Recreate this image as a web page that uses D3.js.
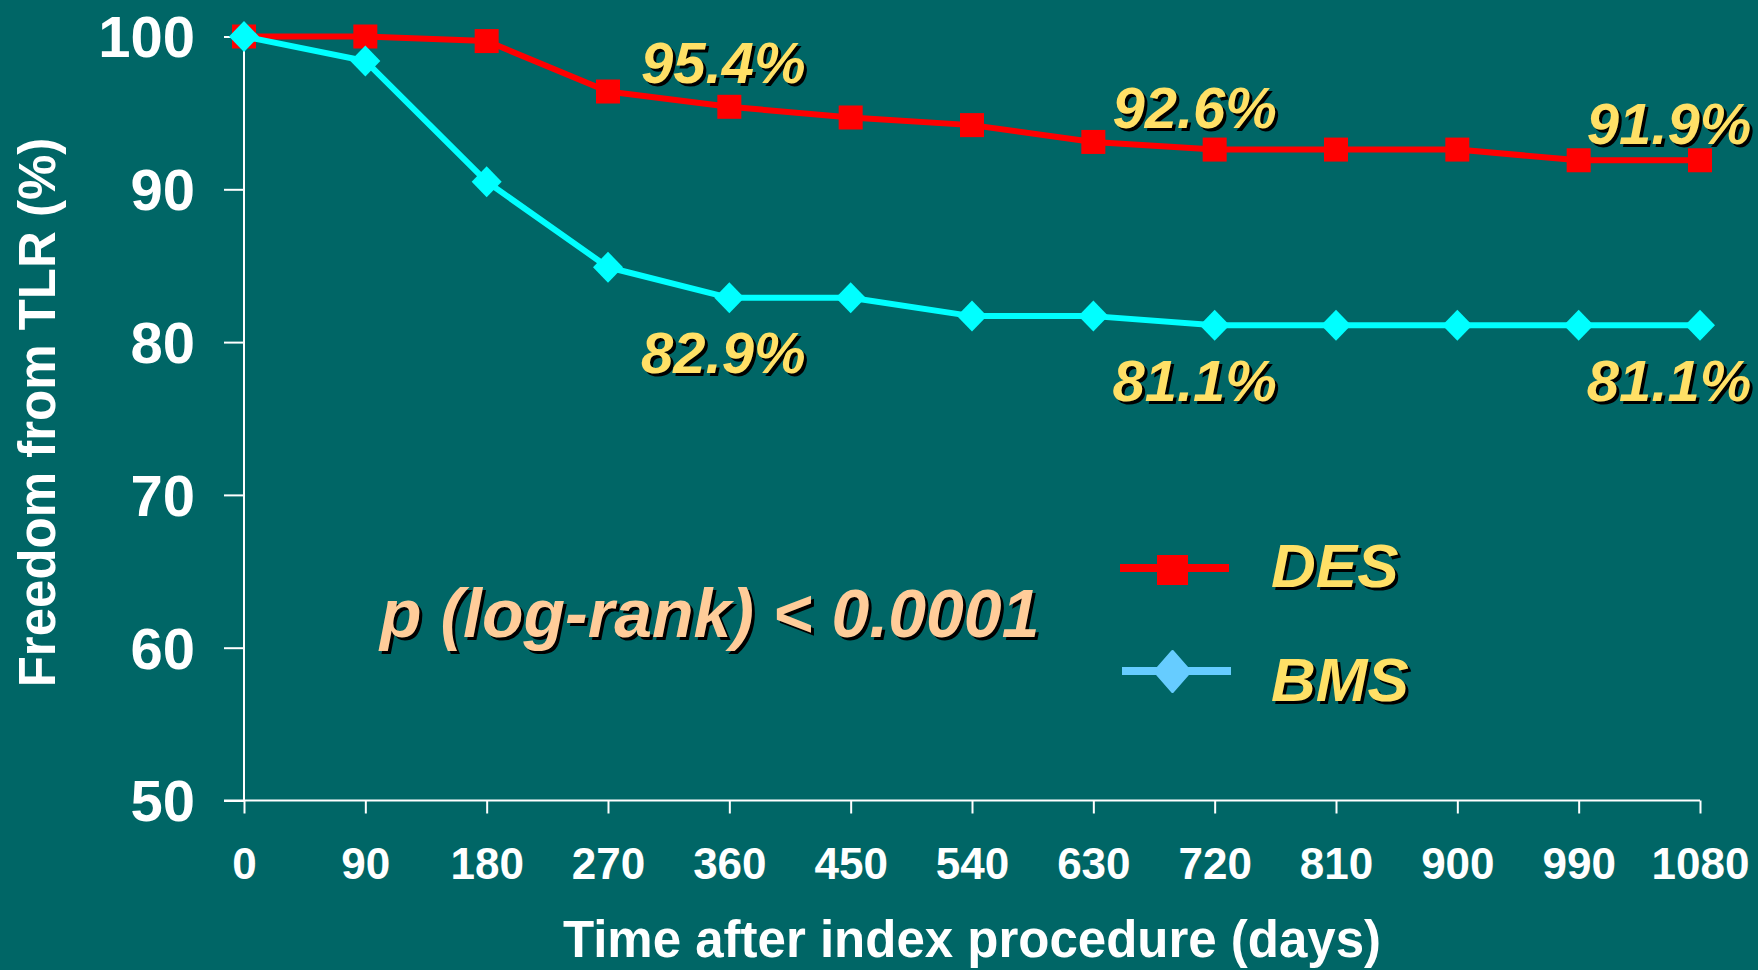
<!DOCTYPE html>
<html>
<head>
<meta charset="utf-8">
<script src="https://cdn.jsdelivr.net/npm/d3@7"></script>
<style>
  html, body { margin: 0; padding: 0; background: #006666; }
  svg { display: block; }
  text { font-family: "Liberation Sans", Arial, sans-serif; font-weight: bold; }
</style>
</head>
<body>
<svg id="chart" width="1758" height="970"></svg>
<script>
// Follow-up time points (days)
const days = [0, 90, 180, 270, 360, 450, 540, 630, 720, 810, 900, 990, 1080];
// Freedom from target lesion revascularization (%)
const desValues = [100, 100, 99.7, 96.4, 95.4, 94.7, 94.2, 93.1, 92.6, 92.6, 92.6, 91.9, 91.9];
const bmsValues = [100, 98.4, 90.5, 84.9, 82.9, 82.9, 81.7, 81.7, 81.1, 81.1, 81.1, 81.1, 81.1];
const yTicks = [50, 60, 70, 80, 90, 100];
// Days at which the survival estimate is printed
const labelDays = [360, 720, 1080];
const seriesNames = ["DES", "BMS"];
const pValueText = "p (log-rank) < 0.0001";

const svg = d3.select("#chart");
const W = 1758, H = 970;
const plot = { left: 244, right: 1700, top: 36.5, bottom: 800.5 };

svg.append("rect").attr("width", W).attr("height", H).attr("fill", "#006666");

const x = d3.scaleLinear().domain([0, 1080]).range([plot.left, plot.right]);
const y = d3.scaleLinear().domain([50, 100]).range([plot.bottom, plot.top]);

const white = "#ffffff";
const yellow = "#ffe066";
const peach = "#ffcc99";

// Axes
const xAxis = svg.append("g")
  .attr("transform", `translate(0,${plot.bottom})`)
  .call(d3.axisBottom(x).tickValues(days).tickSize(13).tickSizeOuter(0).tickFormat(d3.format("d")));
const yAxis = svg.append("g")
  .attr("transform", `translate(${plot.left},0)`)
  .call(d3.axisLeft(y).tickValues(yTicks).tickSize(20).tickSizeOuter(0));

[xAxis, yAxis].forEach(g => {
  g.select(".domain").attr("stroke", white).attr("stroke-width", 2);
  g.selectAll(".tick line").attr("stroke", white).attr("stroke-width", 2);
  g.selectAll(".tick text").attr("fill", white).attr("font-family", null);
});
xAxis.selectAll(".tick text").attr("font-size", 44).attr("dy", null).attr("y", 78.5);
yAxis.selectAll(".tick text").attr("font-size", 58).attr("x", -49).attr("dy", "0.35em");
// extend the y domain line down to the x axis tick and vice versa
yAxis.select(".domain").attr("d", `M0,${plot.top}V${plot.bottom}`);
xAxis.select(".domain").attr("d", `M${plot.left - 20},0H${plot.right}`);

// Axis titles
svg.append("text")
  .attr("x", (plot.left + plot.right) / 2).attr("y", 957)
  .attr("text-anchor", "middle").attr("font-size", 51).attr("fill", white)
  .text("Time after index procedure (days)");
svg.append("text")
  .attr("transform", `translate(55,${(plot.top + plot.bottom) / 2 - 6}) rotate(-90)`)
  .attr("text-anchor", "middle").attr("font-size", 51).attr("fill", white)
  .text("Freedom from TLR (%)");

// Series lines
const desPts = days.map((d, i) => [x(d), y(desValues[i])]);
const bmsPts = days.map((d, i) => [x(d), y(bmsValues[i])]);
const line = d3.line();

svg.append("path").attr("d", line(desPts)).attr("fill", "none")
  .attr("stroke", "#ff0000").attr("stroke-width", 6).attr("stroke-linejoin", "round");
svg.append("g").selectAll("rect").data(desPts).join("rect")
  .attr("x", d => d[0] - 12).attr("y", d => d[1] - 12)
  .attr("width", 24).attr("height", 24).attr("fill", "#ff0000");

svg.append("path").attr("d", line(bmsPts)).attr("fill", "none")
  .attr("stroke", "#00ffff").attr("stroke-width", 6).attr("stroke-linejoin", "round");
const diamond = (cx, cy, rx, ry) => `M${cx},${cy - ry}L${cx + rx},${cy}L${cx},${cy + ry}L${cx - rx},${cy}Z`;
svg.append("g").selectAll("path").data(bmsPts).join("path")
  .attr("d", d => diamond(d[0], d[1], 15, 15.5)).attr("fill", "#00ffff");

// Text with a drop shadow
function shadowText(parent, tx, ty, str, size, color, anchor) {
  const g = parent.append("g");
  [["#000000", 3], [color, 0]].forEach(([c, o]) => {
    g.append("text")
      .attr("x", tx + o).attr("y", ty + o)
      .attr("text-anchor", anchor || "start")
      .attr("font-size", size).attr("font-style", "italic")
      .attr("fill", c).text(str);
  });
  return g;
}

// Value annotations: offsets (dx, dy) from the annotated point
const fmt = v => `${v.toFixed(1)}%`;
const desLabelOffsets = [[-6, -24], [-20, -21.5], [-31, -16]];
const bmsLabelOffsets = [[-6, 75.5], [-20, 76], [-31, 76]];
labelDays.forEach((d, k) => {
  const i = days.indexOf(d);
  shadowText(svg, x(d) + desLabelOffsets[k][0], y(desValues[i]) + desLabelOffsets[k][1],
    fmt(desValues[i]), 58, yellow, "middle");
  shadowText(svg, x(d) + bmsLabelOffsets[k][0], y(bmsValues[i]) + bmsLabelOffsets[k][1],
    fmt(bmsValues[i]), 58, yellow, "middle");
});

// p-value note
shadowText(svg, 380, 637, pValueText, 68, peach, "start");

// Legend
const legend = svg.append("g");
legend.append("line").attr("x1", 1120).attr("x2", 1229).attr("y1", 568).attr("y2", 568)
  .attr("stroke", "#ff0000").attr("stroke-width", 8);
legend.append("rect").attr("x", 1157).attr("y", 555).attr("width", 31).attr("height", 30)
  .attr("fill", "#ff0000");
legend.append("line").attr("x1", 1122).attr("x2", 1231).attr("y1", 671).attr("y2", 671)
  .attr("stroke", "#66ccff").attr("stroke-width", 8);
legend.append("path").attr("d", diamond(1172.5, 671.5, 17.5, 20))
  .attr("fill", "#66ccff").attr("stroke", "#66ccff").attr("stroke-width", 3)
  .attr("stroke-linejoin", "round");
shadowText(legend, 1271, 587, seriesNames[0], 62, yellow, "start");
shadowText(legend, 1271, 701, seriesNames[1], 62, yellow, "start");
</script>
</body>
</html>
